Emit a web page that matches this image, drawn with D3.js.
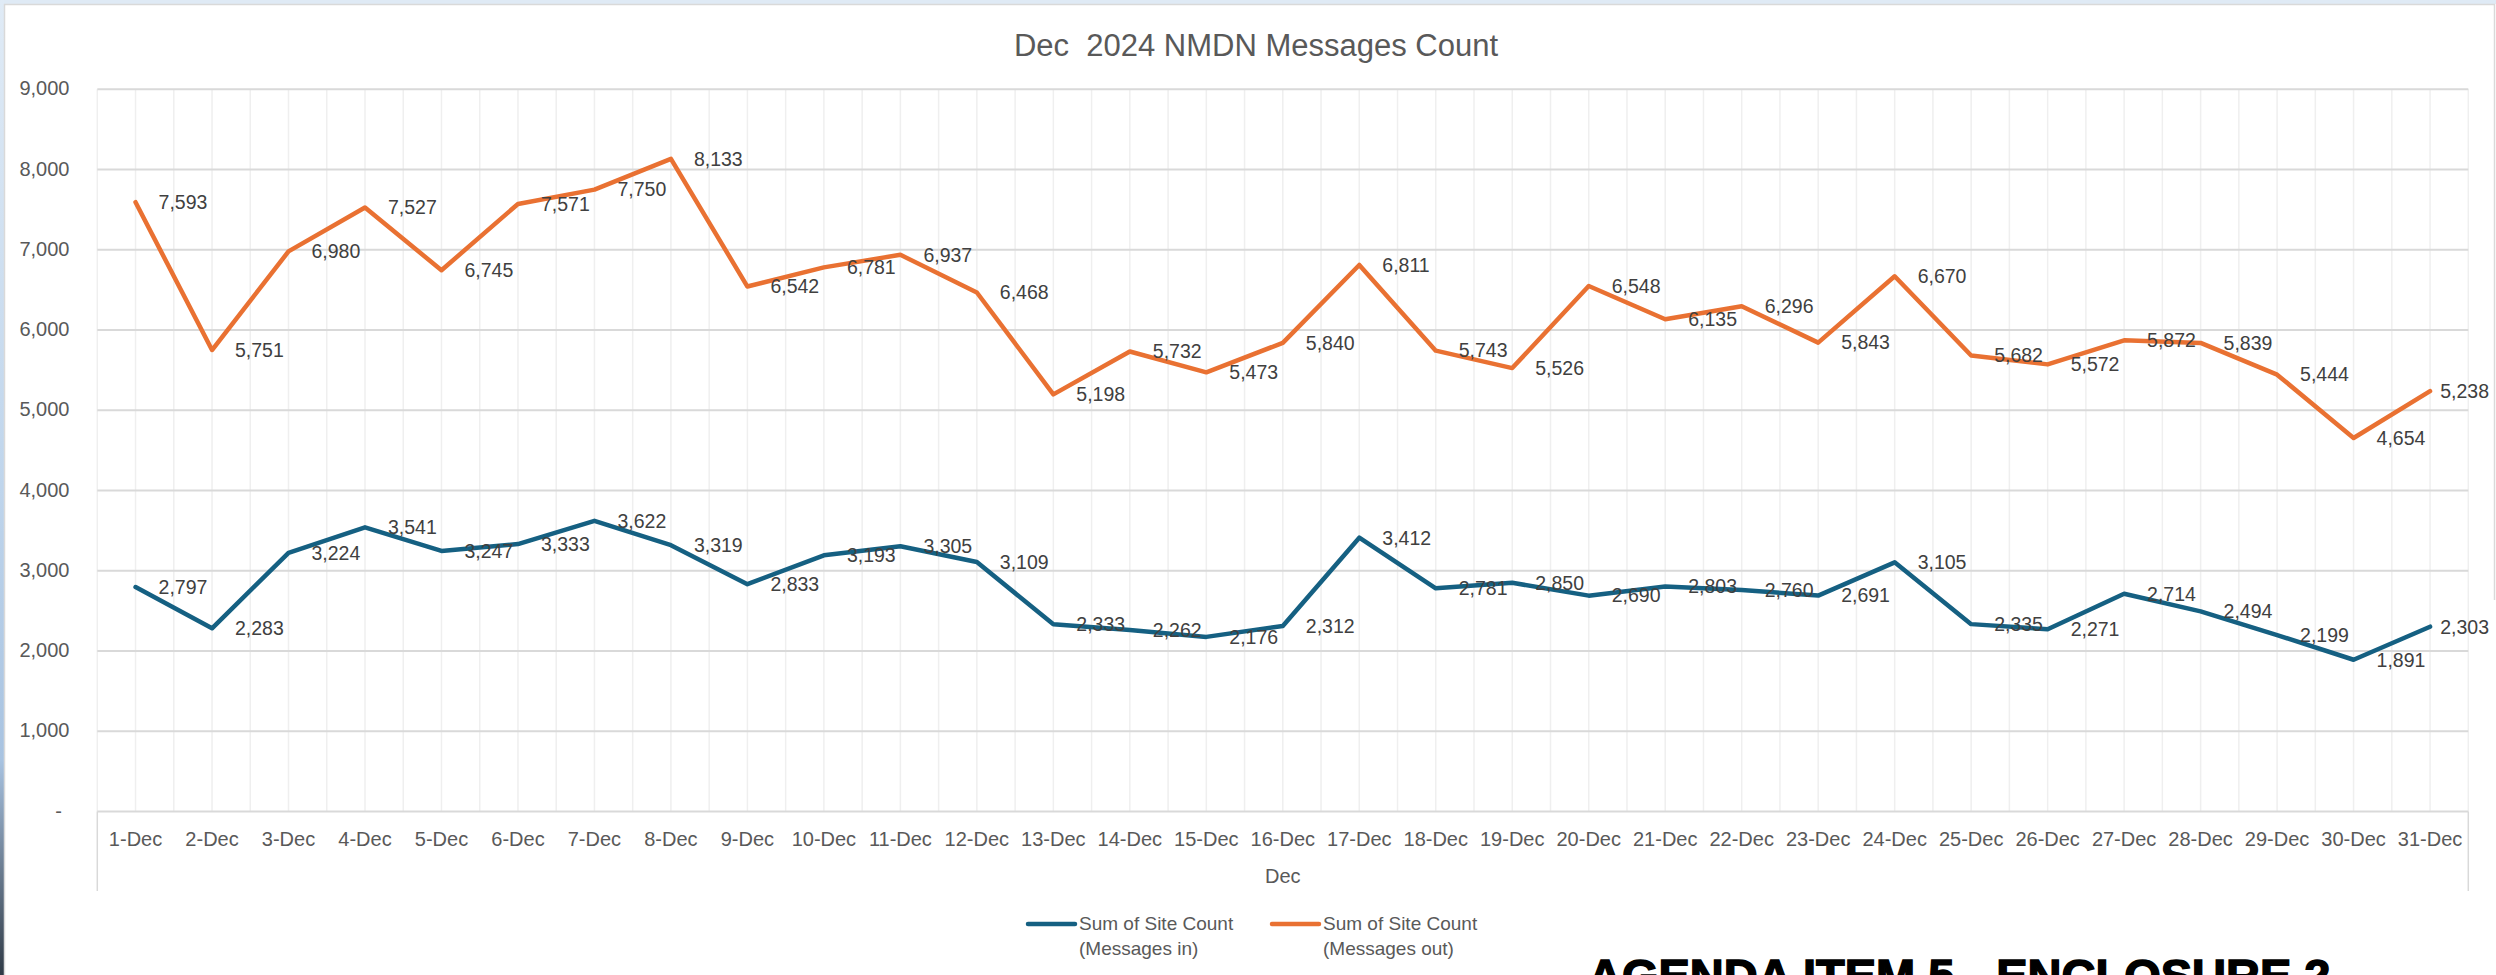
<!DOCTYPE html>
<html>

<head>
    <meta charset="utf-8">
    <style>
    body {
        margin: 0;
        background: #fff;
        overflow: hidden;
    }

    text {
        font-family: "Liberation Sans", Arial, sans-serif;
    }

    .tick-label {
        font-size: 20px;
        fill: #595959;
    }

    .data-label {
        font-size: 19.5px;
        fill: #404040;
    }
    </style>
</head>

<body>
    <script src="https://d3js.org/d3.v7.min.js"></script>
    <script>
    var width = 2496, height = 975;

    // data
    var days = ["1-Dec", "2-Dec", "3-Dec", "4-Dec", "5-Dec", "6-Dec", "7-Dec", "8-Dec", "9-Dec", "10-Dec",
        "11-Dec", "12-Dec", "13-Dec", "14-Dec", "15-Dec", "16-Dec", "17-Dec", "18-Dec", "19-Dec", "20-Dec",
        "21-Dec", "22-Dec", "23-Dec", "24-Dec", "25-Dec", "26-Dec", "27-Dec", "28-Dec", "29-Dec", "30-Dec", "31-Dec"];

    var messagesIn = [2797, 2283, 3224, 3541, 3247, 3333, 3622, 3319, 2833, 3193,
        3305, 3109, 2333, 2262, 2176, 2312, 3412, 2781, 2850, 2690,
        2803, 2760, 2691, 3105, 2335, 2271, 2714, 2494, 2199, 1891, 2303];

    var messagesOut = [7593, 5751, 6980, 7527, 6745, 7571, 7750, 8133, 6542, 6781,
        6937, 6468, 5198, 5732, 5473, 5840, 6811, 5743, 5526, 6548,
        6135, 6296, 5843, 6670, 5682, 5572, 5872, 5839, 5444, 4654, 5238];

    var yTicks = [0, 1000, 2000, 3000, 4000, 5000, 6000, 7000, 8000, 9000];

    var seriesNames = [["Sum of Site Count", "(Messages in)"], ["Sum of Site Count", "(Messages out)"]];
    var seriesColors = ["#156082", "#e97132"];

    var plot = {left: 97.3, right: 2468.3, top: 89.3, bottom: 811.5};
    var labelLimit = 2489;

    var svg = d3.select("body").append("svg")
        .attr("width", width)
        .attr("height", height);

    // window frame bits around the chart
    var grad = svg.append("defs").append("linearGradient")
        .attr("id", "leftEdge")
        .attr("x1", 0).attr("y1", 0).attr("x2", 0).attr("y2", 1);
    grad.append("stop").attr("offset", 0).attr("stop-color", "#e0ebf6");
    grad.append("stop").attr("offset", 0.5).attr("stop-color", "#bfd5ec");
    grad.append("stop").attr("offset", 0.78).attr("stop-color", "#a8c3e1");
    grad.append("stop").attr("offset", 0.9).attr("stop-color", "#66778b");
    grad.append("stop").attr("offset", 1).attr("stop-color", "#2f3a46");

    svg.append("rect").attr("x", 0).attr("y", 0).attr("width", width).attr("height", 4)
        .attr("fill", "#dfeaf5");
    svg.append("rect").attr("x", 0).attr("y", 0).attr("width", 4).attr("height", height)
        .attr("fill", "url(#leftEdge)");
    svg.append("path")
        .attr("d", "M4.5," + height + "V4.5H" + (width - 1.5) + "V" + 600)
        .attr("fill", "none")
        .attr("stroke", "#d9d9d9")
        .attr("stroke-width", 1.5);

    var x = d3.scalePoint()
        .domain(days)
        .range([plot.left, plot.right])
        .padding(0.5);

    var y = d3.scaleLinear()
        .domain([0, 9000])
        .range([plot.bottom, plot.top]);

    var step = x.step();

    // vertical gridlines, on each category and between categories
    var vLines = [];
    days.forEach(function(d) {
        vLines.push(x(d) - step / 2);
        vLines.push(x(d));
    });
    vLines.push(x(days[days.length - 1]) + step / 2);

    svg.append("g")
        .selectAll("line")
        .data(vLines)
        .enter().append("line")
        .attr("x1", function(d) { return d; })
        .attr("x2", function(d) { return d; })
        .attr("y1", plot.top)
        .attr("y2", plot.bottom)
        .attr("stroke", "#efefef")
        .attr("stroke-width", 1.5);

    // horizontal gridlines
    svg.append("g")
        .selectAll("line")
        .data(yTicks)
        .enter().append("line")
        .attr("x1", plot.left)
        .attr("x2", plot.right)
        .attr("y1", function(d) { return y(d); })
        .attr("y2", function(d) { return y(d); })
        .attr("stroke", "#d9d9d9")
        .attr("stroke-width", 2);

    // category separators under the axis
    svg.append("g")
        .selectAll("line")
        .data([plot.left, plot.right])
        .enter().append("line")
        .attr("x1", function(d) { return d; })
        .attr("x2", function(d) { return d; })
        .attr("y1", plot.bottom)
        .attr("y2", 891)
        .attr("stroke", "#d9d9d9")
        .attr("stroke-width", 1.5);

    // y tick labels
    var fmt = d3.format(",");
    svg.append("g")
        .selectAll("text")
        .data(yTicks)
        .enter().append("text")
        .attr("class", "tick-label")
        .attr("text-anchor", "end")
        .attr("x", function(d) { return d === 0 ? 62 : 69.5; })
        .attr("y", function(d) { return y(d); })
        .attr("dy", "0.3em")
        .text(function(d) { return d === 0 ? "-" : fmt(d); });

    // x tick labels
    svg.append("g")
        .selectAll("text")
        .data(days)
        .enter().append("text")
        .attr("class", "tick-label")
        .attr("text-anchor", "middle")
        .attr("x", function(d) { return x(d); })
        .attr("y", 846)
        .text(function(d) { return d; });

    svg.append("text")
        .attr("class", "tick-label")
        .attr("text-anchor", "middle")
        .attr("x", (plot.left + plot.right) / 2)
        .attr("y", 883)
        .text("Dec");

    svg.append("text")
        .attr("text-anchor", "middle")
        .attr("x", 1256)
        .attr("y", 55.5)
        .style("font-size", "31px")
        .style("white-space", "pre")
        .attr("fill", "#595959")
        .text("Dec  2024 NMDN Messages Count");

    // lines
    var line = d3.line()
        .x(function(d, i) { return x(days[i]); })
        .y(function(d) { return y(d); });

    [messagesIn, messagesOut].forEach(function(values, k) {
        svg.append("path")
            .datum(values)
            .attr("fill", "none")
            .attr("stroke", seriesColors[k])
            .attr("stroke-width", 4.5)
            .attr("stroke-linejoin", "round")
            .attr("stroke-linecap", "round")
            .attr("d", line);
    });

    // data labels to the right of each point, kept inside the chart
    [messagesOut, messagesIn].forEach(function(values) {
        svg.append("g")
            .selectAll("text")
            .data(values)
            .enter().append("text")
            .attr("class", "data-label")
            .attr("y", function(d) { return y(d); })
            .attr("dy", "0.35em")
            .text(function(d) { return fmt(d); })
            .attr("x", function(d, i) {
                var w = this.getComputedTextLength();
                return Math.min(x(days[i]) + 23, labelLimit - w);
            });
    });

    // legend
    var legendX = [1026, 1270];
    var legend = svg.append("g")
        .selectAll("g")
        .data(seriesNames)
        .enter().append("g")
        .attr("transform", function(d, i) { return "translate(" + legendX[i] + ",0)"; });

    legend.append("line")
        .attr("x1", 2).attr("x2", 49)
        .attr("y1", 924).attr("y2", 924)
        .attr("stroke", function(d, i) { return seriesColors[i]; })
        .attr("stroke-width", 4.5)
        .attr("stroke-linecap", "round");

    legend.selectAll("text")
        .data(function(d) { return d; })
        .enter().append("text")
        .attr("x", 53)
        .attr("y", function(d, j) { return 929.5 + j * 25; })
        .style("font-size", "19px")
        .attr("fill", "#595959")
        .text(function(d) { return d; });

    // document caption under the chart, cut by the page edge
    svg.append("text")
        .attr("x", 1588)
        .attr("y", 992)
        .style("font-size", "47px")
        .style("font-weight", "bold")
        .attr("fill", "#000")
        .attr("stroke", "#000")
        .attr("stroke-width", 1.5)
        .text("AGENDA ITEM 5 - ENCLOSURE 2");
    </script>
</body>

</html>
